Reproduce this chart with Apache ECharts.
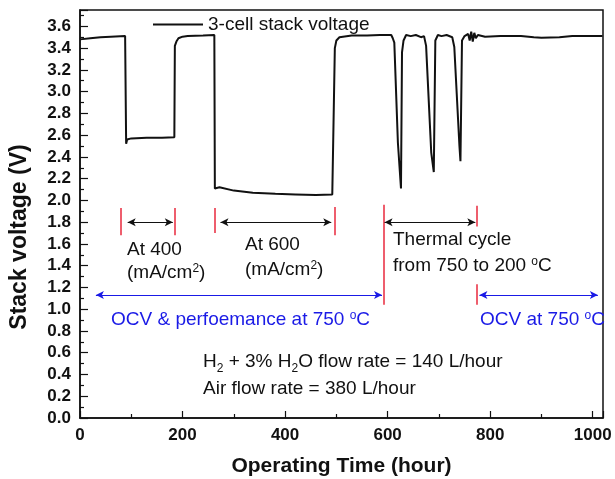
<!DOCTYPE html>
<html>
<head>
<meta charset="utf-8">
<script src="https://cdn.jsdelivr.net/npm/echarts@6/dist/echarts.min.js"></script>
<style>
  html, body { margin: 0; padding: 0; background: #fff; }
  #chart { width: 615px; height: 479px; }
</style>
</head>
<body>
<div id="chart"></div>
<script>
// operating time (hour) and stack voltage (V)
const hours = [
  0, 20, 40, 60, 88, 90, 92, 100, 130, 160, 184, 185, 188, 192, 200, 210, 240, 262,
  263, 266, 272, 300, 337, 381, 420, 460, 492, 497, 500, 506, 530, 560, 585, 607,
  610, 613, 620, 626, 628, 631, 636, 645, 655, 665, 671, 675, 685, 690, 693, 698,
  705, 715, 726, 730, 740, 742, 745, 750, 757, 760, 763, 766, 769, 772, 776, 790,
  820, 860, 885, 900, 935, 960, 990, 1019
];
const voltage = [
  3.48, 3.49, 3.50, 3.505, 3.51, 2.52, 2.56, 2.57, 2.575, 2.575, 2.58, 3.42, 3.46, 3.49, 3.505, 3.51, 3.515, 3.52,
  2.11, 2.10, 2.12, 2.09, 2.07, 2.06, 2.055, 2.05, 2.055, 3.40, 3.47, 3.50, 3.515, 3.515, 3.52, 3.52,
  3.49, 3.45, 2.53, 2.11, 3.36, 3.47, 3.52, 3.51, 3.52, 3.50, 3.51, 3.42, 2.44, 2.26, 3.47, 3.52,
  3.51, 3.52, 3.50, 3.41, 2.50, 2.36, 3.47, 3.51, 3.53, 3.47, 3.55, 3.46, 3.54, 3.49, 3.52, 3.505,
  3.51, 3.51, 3.50, 3.495, 3.50, 3.51, 3.51, 3.51
];

const xTicks = [0, 200, 400, 600, 800, 1000];
const yTicks = [0, 0.2, 0.4, 0.6, 0.8, 1.0, 1.2, 1.4, 1.6, 1.8, 2.0, 2.2, 2.4, 2.6, 2.8, 3.0, 3.2, 3.4, 3.6];

// annotation marks in data units: [hour, voltage from, voltage to]
const redTicks = [
  [79, 1.93, 1.68], [185, 1.93, 1.68], [263, 1.93, 1.70], [496, 1.94, 1.68],
  [592, 1.96, 1.04], [774, 1.95, 1.76], [774, 1.23, 1.04]
];
// [hour from, hour to, voltage]
const blackArrows = [[93, 181, 1.80], [274, 490, 1.80], [594, 771, 1.80]];
const blueArrows = [[31, 589, 1.13], [779, 1010, 1.13]];

const BLUE = '#1a1ae6';
const RED = '#e8283c';
const FONT = '"Liberation Sans", Arial, sans-serif';

const lineData = hours.map((h, i) => [h, voltage[i]]);

const marks = [];
redTicks.forEach(t => marks.push([
  { coord: [t[0], t[1]], symbol: 'none', lineStyle: { color: RED, width: 1.5, type: 'solid' } },
  { coord: [t[0], t[2]], symbol: 'none' }
]));
blackArrows.forEach(a => marks.push([
  { coord: [a[0], a[2]], symbol: 'arrow', symbolSize: [6, 8], lineStyle: { color: '#111', width: 1.2, type: 'solid' } },
  { coord: [a[1], a[2]], symbol: 'arrow', symbolSize: [6, 8] }
]));
blueArrows.forEach(a => marks.push([
  { coord: [a[0], a[2]], symbol: 'arrow', symbolSize: [6, 8], lineStyle: { color: BLUE, width: 1.2, type: 'solid' } },
  { coord: [a[1], a[2]], symbol: 'arrow', symbolSize: [6, 8] }
]));

// small raised / lowered digits inside the annotation text
const subRich = {
  sub: { fontSize: 12, fontFamily: FONT, verticalAlign: 'top', lineHeight: 1, padding: [11, 0, 0, 0], fill: '#111' },
  sup: { fontSize: 12, fontFamily: FONT, verticalAlign: 'top', lineHeight: 10, fill: '#111' },
  bsup: { fontSize: 12, fontFamily: FONT, verticalAlign: 'top', lineHeight: 10, fill: BLUE }
};

function label(x, y, text, color) {
  return {
    type: 'text', x: x, y: y, silent: true,
    style: {
      text: text, fontSize: 19, fontFamily: FONT, fill: color || '#111',
      verticalAlign: 'middle', lineHeight: 20, rich: subRich
    }
  };
}

const chart = echarts.init(document.getElementById('chart'));
chart.setOption({
  animation: false,
  backgroundColor: '#fff',
  grid: {
    left: 80, right: 12, top: 10, bottom: 61,
    outerBoundsMode: 'none',
    show: true, borderColor: '#111', borderWidth: 1.5
  },
  legend: {
    data: ['3-cell stack voltage'],
    left: 148, top: 10,
    icon: 'rect', itemWidth: 50, itemHeight: 2,
    textStyle: { fontSize: 19, fontFamily: FONT, color: '#111' }
  },
  xAxis: {
    type: 'value', min: 0, max: 1020, interval: 200,
    name: 'Operating Time (hour)', nameLocation: 'middle', nameGap: 38,
    nameTextStyle: { fontSize: 21, fontWeight: 'bold', fontFamily: FONT, color: '#111' },
    axisLine: { lineStyle: { color: '#111', width: 1.5 } },
    axisTick: { inside: true, length: 7, lineStyle: { color: '#111', width: 1.2 } },
    minorTick: { show: true, splitNumber: 2, length: 4, lineStyle: { color: '#111', width: 1.2 } },
    splitLine: { show: false },
    axisLabel: {
      margin: 9, fontSize: 17, fontWeight: 'bold', fontFamily: FONT, color: '#111',
      showMaxLabel: false,
      formatter: v => (xTicks.indexOf(v) >= 0 ? String(v) : '')
    }
  },
  yAxis: {
    type: 'value', min: 0, max: 3.75, interval: 0.2,
    axisLine: { show: true, lineStyle: { color: '#111', width: 1.5 } },
    axisTick: { show: true, inside: true, length: 8, lineStyle: { color: '#111', width: 1.2 } },
    minorTick: { show: true, splitNumber: 2, length: 4, lineStyle: { color: '#111', width: 1.2 } },
    splitLine: { show: false },
    axisLabel: {
      margin: 9, fontSize: 17, fontWeight: 'bold', fontFamily: FONT, color: '#111',
      showMaxLabel: false,
      formatter: v => {
        const k = yTicks.findIndex(t => Math.abs(t - v) < 1e-6);
        return k >= 0 ? yTicks[k].toFixed(1) : '';
      }
    }
  },
  graphic: [
    {
      type: 'text', x: 20, y: 237, rotation: Math.PI / 2, silent: true,
      style: {
        text: 'Stack voltage (V)', fontSize: 23, fontWeight: 'bold', fontFamily: FONT,
        fill: '#111', align: 'center', verticalAlign: 'middle'
      }
    },
    label(127, 250, 'At 400'),
    label(127, 273, '(mA/cm{sup|2})'),
    label(245, 245, 'At 600'),
    label(245, 270, '(mA/cm{sup|2})'),
    label(393, 240, 'Thermal cycle'),
    label(393, 266, 'from 750 to 200 {sup|o}C'),
    label(111, 320, 'OCV & perfoemance at 750 {bsup|o}C', BLUE),
    label(480, 320, 'OCV at 750 {bsup|o}C', BLUE),
    label(203, 362, 'H{sub|2} + 3% H{sub|2}O flow rate = 140 L/hour'),
    label(203, 389, 'Air flow rate = 380 L/hour')
  ],
  series: [
    {
      name: '3-cell stack voltage',
      type: 'line',
      data: lineData,
      showSymbol: false,
      symbol: 'none',
      smooth: false,
      lineStyle: { color: '#111', width: 2 },
      itemStyle: { color: '#111' },
      markLine: {
        silent: true,
        animation: false,
        label: { show: false },
        emphasis: { disabled: true },
        data: marks
      }
    }
  ]
});
</script>
</body>
</html>
